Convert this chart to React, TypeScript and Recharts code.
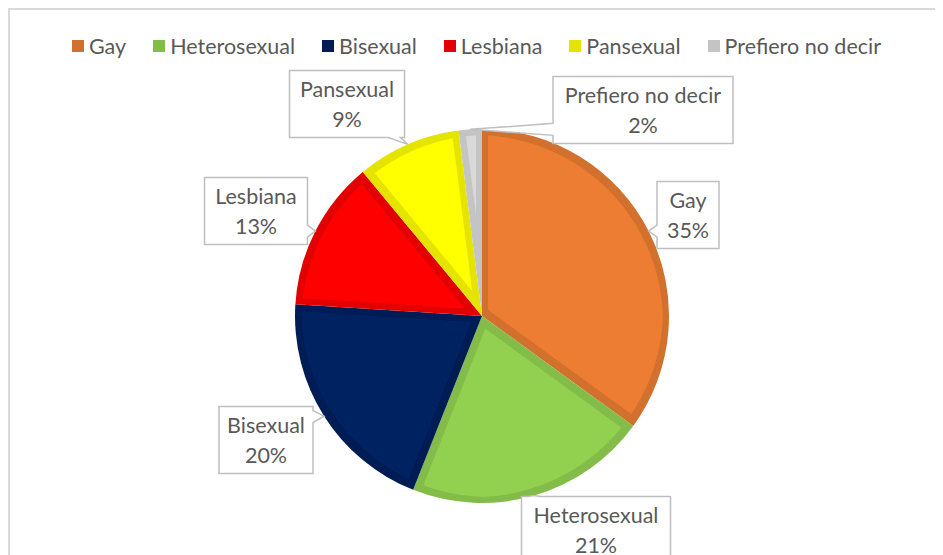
import React from "react";
import { PieChart, Pie, Cell, Legend } from "recharts";

const categories = ["Gay", "Heterosexual", "Bisexual", "Lesbiana", "Pansexual", "Prefiero no decir"];
const shares = [35, 21, 20, 13, 9, 2];

const fillColors = ["#ED7D31", "#92D050", "#002060", "#FF0000", "#FFFF00", "#D9D9D9"];
const edgeColors = ["#D2702D", "#84BC48", "#001C55", "#E20000", "#E4E400", "#C4C4C4"];

// callout box centre offsets from the pie centre, and box widths
const calloutOffset = [
  [206, -101],
  [114, 214],
  [-216, 124],
  [-226, -105],
  [-135, -212],
  [161, -206],
];
const calloutWidth = [62, 149, 94, 103, 115, 180];

const data = categories.map((name, i) => ({ name, value: shares[i] }));

const FONT = "Lato, 'Open Sans', sans-serif";
const TEXT = "#595959";
const FS = 21.5;

const RADIAN = Math.PI / 180;

const renderCallout = (props: any) => {
  const { cx, cy, midAngle, outerRadius, index, name, percent } = props;
  const tx = cx + outerRadius * Math.cos(-midAngle * RADIAN);
  const ty = cy + outerRadius * Math.sin(-midAngle * RADIAN);
  const [dx, dy] = calloutOffset[index];
  const w = calloutWidth[index];
  const h = 67;
  const bx = cx + dx;
  const by = cy + dy;
  const x0 = bx - w / 2;
  const x1 = bx + w / 2;
  const y0 = by - h / 2;
  const y1 = by + h / 2;
  const ex = Math.max(x0 - tx, tx - x1, 0);
  const ey = Math.max(y0 - ty, ty - y1, 0);
  const half = 6;
  const clamp = (v: number, lo: number, hi: number) => Math.min(Math.max(v, lo), hi);
  let d = "";
  if (ex >= ey) {
    const c = clamp(ty, y0 + 4 + half, y1 - 4 - half);
    const b1 = c - half;
    const b2 = c + half;
    if (tx < x0) {
      d = `M${x0},${y0}L${x1},${y0}L${x1},${y1}L${x0},${y1}L${x0},${b2}L${tx},${ty}L${x0},${b1}Z`;
    } else {
      d = `M${x0},${y0}L${x1},${y0}L${x1},${b1}L${tx},${ty}L${x1},${b2}L${x1},${y1}L${x0},${y1}Z`;
    }
  } else {
    const c = clamp(tx, x0 + 4 + half, x1 - 4 - half);
    const b1 = c - half;
    const b2 = c + half;
    if (ty < y0) {
      d = `M${x0},${y0}L${b1},${y0}L${tx},${ty}L${b2},${y0}L${x1},${y0}L${x1},${y1}L${x0},${y1}Z`;
    } else {
      d = `M${x0},${y0}L${x1},${y0}L${x1},${y1}L${b2},${y1}L${tx},${ty}L${b1},${y1}L${x0},${y1}Z`;
    }
  }
  return (
    <g key={`callout-${index}`}>
      <path d={d} fill="#fff" stroke="#BFBFBF" strokeWidth={1.5} />
      <text x={bx} y={by - 15} textAnchor="middle" dominantBaseline="central" fill={TEXT} fontSize={FS} fontFamily={FONT}>
        {name}
      </text>
      <text x={bx} y={by + 15} textAnchor="middle" dominantBaseline="central" fill={TEXT} fontSize={FS} fontFamily={FONT}>
        {`${Math.round(percent * 100)}%`}
      </text>
    </g>
  );
};

const renderLegend = () => (
  <div style={{ display: "flex", justifyContent: "center", alignItems: "center", gap: 27, height: 24, lineHeight: "24px", fontFamily: FONT, fontSize: FS, color: TEXT }}>
    {categories.map((c, i) => (
      <div key={c} style={{ display: "flex", alignItems: "center" }}>
        <span style={{ display: "inline-block", width: 12, height: 12, background: edgeColors[i], marginRight: 5 }} />
        <span>{c}</span>
      </div>
    ))}
  </div>
);

export default function App() {
  return (
    <div style={{ width: 935, height: 547, borderTop: "2px solid #D9D9D9", borderLeft: "2px solid #D9D9D9", overflow: "hidden" }}>
      <PieChart width={933} height={545} margin={{ top: 0, right: 0, bottom: 0, left: 0 }}>
        <defs>
          {fillColors.map((c, i) => (
            <filter key={c} id={`inner-${i}`} x="-5%" y="-5%" width="110%" height="110%">
              <feMorphology in="SourceAlpha" operator="erode" radius={5.5} result="eroded" />
              <feFlood floodColor={c} result="flood" />
              <feComposite in="flood" in2="eroded" operator="in" result="inner" />
              <feMerge>
                <feMergeNode in="SourceGraphic" />
                <feMergeNode in="inner" />
              </feMerge>
            </filter>
          ))}
        </defs>
        <Legend verticalAlign="top" align="center" content={renderLegend} wrapperStyle={{ top: 24, left: 0, width: 933 }} />
        <Pie
          data={data}
          dataKey="value"
          nameKey="name"
          cx={472}
          cy={282}
          outerRadius={187}
          startAngle={90}
          endAngle={-270}
          stroke="none"
          label={renderCallout}
          labelLine={false}
          isAnimationActive={false}
        >
          {data.map((d, i) => (
            <Cell key={d.name} fill={edgeColors[i]} stroke="none" filter={`url(#inner-${i})`} />
          ))}
        </Pie>
      </PieChart>
    </div>
  );
}
